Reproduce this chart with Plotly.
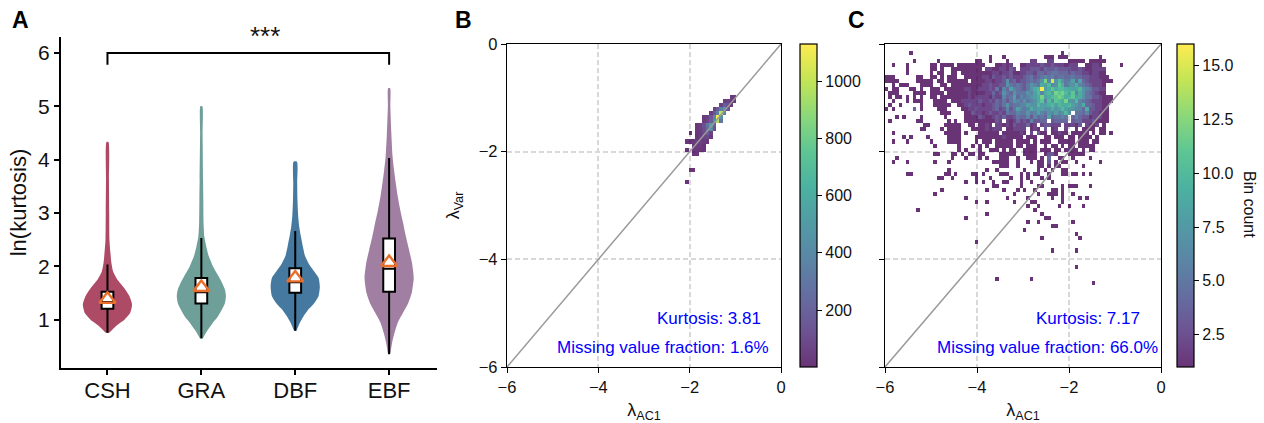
import plotly.graph_objects as go
from plotly.colors import sequential

W, H = 1264, 423
FONT = "Liberation Sans, Arial, sans-serif"

CATEGORIES = ["CSH", "GRA", "DBF", "EBF"]
POSITIONS = [0, 1, 2, 3]
VIOLIN_COLORS = ["#ad4b66", "#6f9f99", "#45799f", "#a17fa2"]

CSH_Y = [0.75, 0.875, 1.0, 1.12, 1.28, 1.44, 1.59, 1.75, 1.9, 2.06, 2.25, 2.5, 3.0, 3.62, 4.33]
CSH_W = [0.07, 0.34, 0.7, 0.92, 1.0, 0.89, 0.68, 0.4, 0.23, 0.16, 0.12, 0.08, 0.07, 0.06, 0.04]
GRA_Y = [0.64, 0.81, 0.94, 1.06, 1.19, 1.31, 1.44, 1.56, 1.69, 1.81, 2.0, 2.19, 2.37, 2.56, 2.81, 3.25, 3.62, 4.5, 5.0]
GRA_W = [0.05, 0.27, 0.47, 0.68, 0.84, 0.96, 1.0, 0.96, 0.84, 0.7, 0.47, 0.3, 0.2, 0.12, 0.09, 0.08, 0.07, 0.05, 0.04]
DBF_Y = [0.79, 0.94, 1.06, 1.19, 1.31, 1.44, 1.62, 1.78, 1.9, 2.03, 2.19, 2.37, 2.56, 2.75, 2.94, 3.25, 3.56, 3.96]
DBF_W = [0.05, 0.19, 0.34, 0.54, 0.78, 0.95, 1.0, 0.95, 0.77, 0.57, 0.4, 0.31, 0.23, 0.16, 0.12, 0.09, 0.08, 0.07]
EBF_Y = [0.36, 0.56, 0.75, 0.94, 1.13, 1.31, 1.5, 1.78, 2.06, 2.31, 2.56, 2.81, 3.06, 3.31, 3.56, 3.81, 4.06, 4.5, 5.0, 5.34]
EBF_W = [0.05, 0.12, 0.22, 0.35, 0.57, 0.78, 0.92, 1.0, 0.93, 0.81, 0.68, 0.57, 0.45, 0.35, 0.27, 0.2, 0.14, 0.09, 0.05, 0.04]
VIOLIN_MAX_HALF = 0.262

Q1 = [1.2, 1.3, 1.5, 1.52]
MEDIAN = [1.33, 1.51, 1.7, 1.95]
Q3 = [1.52, 1.78, 1.96, 2.52]
WHISK_LO = [0.75, 0.65, 0.79, 0.35]
WHISK_HI = [2.03, 2.53, 2.66, 4.03]
MEANS = [1.38, 1.6, 1.78, 2.07]

BRACKET_X = [0, 0, 3, 3]
BRACKET_Y = [5.78, 6, 6, 5.78]

# Panel B: (row, first column, counts) on the 80 x 80 bin grid
B_CELLS = [
    (13, 65, [30, 20]), (14, 63, [40, 60, 50, 20]), (15, 62, [60, 180, 120, 30]),
    (16, 60, [60, 170, 350, 450, 120]), (17, 59, [40, 150, 350, 1000, 380]),
    (18, 57, [30, 60, 150, 380, 1120, 450]), (19, 57, [30, 70, 180, 420, 950, 300]),
    (20, 55, [20, 50, 120, 300, 520, 180]), (21, 55, [20, 50, 100, 250, 420, 120]),
    (22, 55, [15, 40, 90, 170, 60]), (22, 53, [5]), (23, 55, [15, 40, 70, 80, 30]),
    (24, 52, [10, 10, 20, 40, 50, 40, 20]), (25, 54, [15, 30, 30, 15]),
    (26, 52, [10]), (26, 54, [15, 25, 25, 10]), (27, 54, [15, 10]),
    (31, 53, [5, 5]), (34, 52, [5]),
]

# Panel C: rows 2-26, one character per column (. = empty, a = 10 ... g = 16)
C_DENSE = [
    ".......1.. .......... .......... .......... .......... .1........ ..........",
    ".......... .......... .......... 1...1..... ......111. 111....... ..1.......",
    "........1. .....1.... ......11.. 1....1.... ..22...22. ...11111.1 1111......",
    "..1...1... ...11.1111 .11111111. ..11212..1 1222232232 221222..11 221.....1.",
    "......1... ...11.1..1 11111111.2 21122132.2 2233324334 3333223211 2222......",
    "......1... ...1.11..1 1.11111111 1221223112 2332443455 4443433221 2211......",
    "111......1 1..11.1.11 1..1111122 1322323222 3453456564 5545544332 22111.....",
    "1111.....1 1111.11.11 1111.11112 2122373423 345457c6f7 a756848432 222111....",
    "..1.111... 1111..11.1 1111111122 3223375454 3576598a67 b957796543 2221......",
    "1.11...11. 1..111.111 1112211222 3252648654 3579ag89b9 aa9988a765 3322......",
    ".111....11 11.1111.11 1111211112 2423754755 5768a69a8c bca9b69754 3211......",
    ".1.11.1.1. 1..11.1111 1111212222 1322645846 56789c89ab cb9ab89755 332111....",
    "..1...1.11 1...1111.1 1122222322 3243535765 75679b6a7b a9c87a6543 222111....",
    ".1..1..... 1...11111. .112322212 2343574556 6877a889a8 a99a876944 32211.....",
    "1.1.....4. 1....111.. ..11223222 2342363586 5697887797 8a88766493 32211.....",
    ".......... ......111. ...1132212 3223254465 5756865768 67a7.55463 22111.....",
    "...1.1.... 1......1.. ...1111321 1232422354 4636454845 565.464331 22211.....",
    ".1.......1 1.......1. 1..1111111 1132.21242 3263344.34 444.344222 31111.....",
    ".......... .11....111 11..11.112 1.22121322 2412.23322 2.22213.21 12.1......",
    ".......... 11....1.11 11...11112 1222.11222 2.121.3.12 ..2..1.111 1.11......",
    "..1....... .......111 11.1...111 111.111112 1.2.311.11 211.11111. 1.11.1....",
    ".....1.1.. ..1.....11 11....1111 1111211111 .111..11.1 11.11.1111 .1........",
    "..1...1... ...1....11 11....1.11 1.11111.11 11.1.111.. 11111.111. 11........",
    ".......... ....1..... .1...1.1.1 ..11111.11 .111..1.11 .1.11.1111 1.........",
    ".......... .......... .1.1...1.. 111.1.11.. 1111.111.1 1.1211.1.1 1.........",
]
C_DENSE_FIRST_ROW = 2
C_SPARSE = {
    27: [14, 15, 19, 20, 22, 24, 25, 27, 28, 33, 34, 35, 36, 37, 40, 41, 42, 43, 46, 47, 48, 49, 53, 54, 55, 56, 57],
    28: [3, 19, 23, 27, 29, 33, 34, 35, 38, 41, 42, 43, 45, 47, 50, 51, 54, 59],
    29: [2, 6, 14, 18, 31, 32, 33, 34, 35, 38, 42, 44, 45, 47, 49, 51, 52, 55, 62],
    30: [33, 34, 35, 38, 44, 45, 47, 49, 50, 57],
    31: [18, 29, 32, 40, 44, 46, 48, 51, 52],
    32: [6, 7, 17, 18, 20, 25, 26, 28, 33, 34, 35, 39, 41, 43, 44, 47, 51, 52, 54, 55, 57, 59],
    33: [15, 16, 19, 26, 30, 36, 39, 41, 45, 47],
    34: [23, 26, 28, 31, 34, 35, 39, 42, 48],
    35: [31, 32, 39, 44, 45, 51, 53, 54, 55, 59],
    36: [16, 29, 34, 38, 40, 43, 48, 49, 51],
    37: [14, 37, 44, 47, 48, 49, 51, 54],
    38: [23, 35, 41, 48, 51, 56, 58],
    39: [26, 29, 37, 42, 43, 51],
    40: [41, 44, 50, 53, 57],
    41: [9, 43],
    42: [29, 45],
    43: [23, 46, 47],
    44: [41, 44, 54],
    45: [48, 49],
    46: [40],
    47: [55],
    48: [45, 56],
    49: [26],
    51: [48, 55],
    55: [55],
    58: [32, 42],
    59: [60],
}
C_BUMPS = [(27, 47, 3), (27, 48, 3), (28, 47, 4), (29, 47, 3)]

N_BINS = 80
BIN = 0.075
X_CENTERS = [-6 + BIN * (i + 0.5) for i in range(N_BINS)]
Y_CENTERS = [-0.011 - BIN * j for j in range(N_BINS)]


def empty_grid():
    return [[None] * N_BINS for _ in range(N_BINS)]


z_b = empty_grid()
for row, col, counts in B_CELLS:
    for k, v in enumerate(counts):
        z_b[row][col + k] = v

z_c = empty_grid()
for r, text in enumerate(C_DENSE):
    for i, ch in enumerate(text.replace(" ", "")):
        if ch != ".":
            z_c[C_DENSE_FIRST_ROW + r][i] = int(ch, 17)
for row, cols in C_SPARSE.items():
    for col in cols:
        z_c[row][col] = 1
for row, col, v in C_BUMPS:
    z_c[row][col] = v

n = len(sequential.Viridis) - 1
scale = []
for k, c in enumerate(sequential.Viridis):
    c = c.lstrip("#")
    rgb = [int(c[m:m + 2], 16) for m in (0, 2, 4)]
    scale.append([k / n, "rgba(%d,%d,%d,0.8)" % tuple(rgb)])

fig = go.Figure()

for pos, color, ys, ws in zip(POSITIONS, VIOLIN_COLORS, [CSH_Y, GRA_Y, DBF_Y, EBF_Y], [CSH_W, GRA_W, DBF_W, EBF_W]):
    right = [pos + w * VIOLIN_MAX_HALF for w in ws]
    left = [pos - w * VIOLIN_MAX_HALF for w in ws]
    fig.add_trace(go.Scatter(x=right + left[::-1], y=ys + ys[::-1], mode="lines", fill="toself",
                             fillcolor=color, line=dict(width=0, color=color, shape="spline", smoothing=0.6),
                             xaxis="x", yaxis="y", showlegend=False, hoverinfo="skip"))

# Boxes and mean markers sit on an overlaying pair of axes, above the filled violins
fig.add_trace(go.Box(x=POSITIONS, q1=Q1, median=MEDIAN, q3=Q3, lowerfence=WHISK_LO, upperfence=WHISK_HI,
                     orientation="v", width=0.125, whiskerwidth=0, fillcolor="white",
                     line=dict(color="black", width=2), boxpoints=False, xaxis="x4", yaxis="y4", showlegend=False))
fig.add_trace(go.Scatter(x=POSITIONS, y=MEANS, mode="markers", xaxis="x4", yaxis="y4", showlegend=False,
                         marker=dict(symbol="triangle-up-open", size=14, color="#e96f2b", line=dict(width=2.4, color="#e96f2b"))))
fig.add_trace(go.Scatter(x=BRACKET_X, y=BRACKET_Y, mode="lines", line=dict(color="black", width=2),
                         xaxis="x", yaxis="y", showlegend=False))


def cbar(x, tickvals, fmt):
    return dict(x=x / W, xanchor="left", xpad=0, ypad=0, y=1 - 205.5 / H, yanchor="middle", lenmode="pixels", len=323,
                thickness=17, thicknessmode="pixels", outlinewidth=1.2, outlinecolor="black",
                tickvals=tickvals, tickformat=fmt, ticks="outside", ticklen=5, tickwidth=1.3, tickcolor="black",
                tickfont=dict(size=16, family=FONT, color="#111"))


fig.add_trace(go.Heatmap(x=X_CENTERS, y=Y_CENTERS, z=z_b, zmin=1, zmax=1130, colorscale=scale, xaxis="x2", yaxis="y2",
                         hoverongaps=False, colorbar=cbar(800, [200, 400, 600, 800, 1000], "d")))
fig.add_trace(go.Heatmap(x=X_CENTERS, y=Y_CENTERS, z=z_c, zmin=1, zmax=16, colorscale=scale, xaxis="x3", yaxis="y3",
                         hoverongaps=False, colorbar=cbar(1177, [2.5, 5, 7.5, 10, 12.5, 15], ".1f")))

for xa, ya in (("x2", "y2"), ("x3", "y3")):
    fig.add_trace(go.Scatter(x=[-6, 0], y=[-6, 0], mode="lines", line=dict(color="#9a9a9a", width=1.5),
                             xaxis=xa, yaxis=ya, showlegend=False))


def dom_x(a, b):
    return [a / W, b / W]


def dom_y(top, bottom):
    return [1 - bottom / H, 1 - top / H]


panel_axis = dict(range=[-6, 0], tickvals=[-6, -4, -2, 0], showgrid=True, griddash="5px,3px", gridcolor="#d8d8d8",
                  gridwidth=1.5, zeroline=False, showline=True, mirror=True, linecolor="black", linewidth=1.3,
                  ticks="outside", ticklen=5, tickwidth=1.3, tickcolor="black", automargin=False,
                  tickfont=dict(size=16.5, family=FONT, color="#111"))
title_font = dict(size=18, family=FONT, color="#111")
A_X_RANGE = [-0.495, 3.51]
A_Y_RANGE = [0.09, 6.3]

fig.update_layout(
    template="none",
    width=W, height=H, margin=dict(l=0, r=0, t=0, b=0, autoexpand=False), paper_bgcolor="white", plot_bgcolor="white",
    font=dict(family=FONT, color="#111"), showlegend=False, boxmode="overlay",
    xaxis=dict(domain=dom_x(61, 437), range=A_X_RANGE, tickvals=POSITIONS, ticktext=CATEGORIES, automargin=False,
               showline=True, linecolor="black", linewidth=2, ticks="outside", ticklen=5, tickwidth=2,
               ticklabelstandoff=-3, tickcolor="black", showgrid=False, zeroline=False,
               tickfont=dict(size=22, family=FONT, color="#111")),
    yaxis=dict(domain=dom_y(37, 368), range=A_Y_RANGE, tickvals=[1, 2, 3, 4, 5, 6], automargin=False,
               showline=True, linecolor="black", linewidth=2, ticks="outside", ticklen=5, tickwidth=2,
               tickcolor="black", showgrid=False, zeroline=False, tickfont=dict(size=21, family=FONT, color="#111"),
               title=dict(text="ln(kurtosis)", font=dict(size=22, family=FONT, color="#111"), standoff=5)),
    xaxis4=dict(overlaying="x", range=A_X_RANGE, visible=False, anchor="y4"),
    yaxis4=dict(overlaying="y", range=A_Y_RANGE, visible=False, anchor="x4"),
    xaxis2=dict(domain=dom_x(507, 781), anchor="y2", title=dict(text="λ<sub>AC1</sub>", font=title_font, standoff=10), **panel_axis),
    yaxis2=dict(domain=dom_y(44, 367), anchor="x2", title=dict(text="λ<sub>Var</sub>", font=title_font, standoff=14), **panel_axis),
    xaxis3=dict(domain=dom_x(885, 1161), anchor="y3", title=dict(text="λ<sub>AC1</sub>", font=title_font, standoff=10), **panel_axis),
    yaxis3=dict(domain=dom_y(44, 367), anchor="x3", showticklabels=False, **panel_axis),
)

blue = dict(size=17, family=FONT, color="#0000ff")
notes = [
    ("x2", "y2", -0.39, -5.09, "Kurtosis: 3.81"),
    ("x2", "y2", -0.23, -5.63, "Missing value fraction: 1.6%"),
    ("x3", "y3", -0.41, -5.09, "Kurtosis: 7.17"),
    ("x3", "y3", -0.03, -5.63, "Missing value fraction: 66.0%"),
]
for xa, ya, x, y, text in notes:
    fig.add_annotation(xref=xa, yref=ya, x=x, y=y, text=text, xanchor="right", yanchor="middle", showarrow=False, font=blue)

fig.add_annotation(xref="paper", yref="paper", x=248 / W, y=1 - 36 / H, text="***", showarrow=False, yanchor="middle",
                   font=dict(size=26, family=FONT, color="#111"))
fig.add_annotation(xref="paper", yref="paper", x=1250 / W, y=1 - 204 / H, text="Bin count", textangle=90, showarrow=False,
                   xanchor="center", yanchor="middle", font=dict(size=16, family=FONT, color="#111"))
for label, px in (("A", 20), ("B", 463), ("C", 857)):
    fig.add_annotation(xref="paper", yref="paper", x=px / W, y=1 - 20 / H, text="<b>%s</b>" % label, showarrow=False,
                       xanchor="center", yanchor="middle", font=dict(size=23, family=FONT, color="black"))

fig.write_html("out.html", config=dict(displayModeBar=False), post_script="document.body.style.margin='0';")
